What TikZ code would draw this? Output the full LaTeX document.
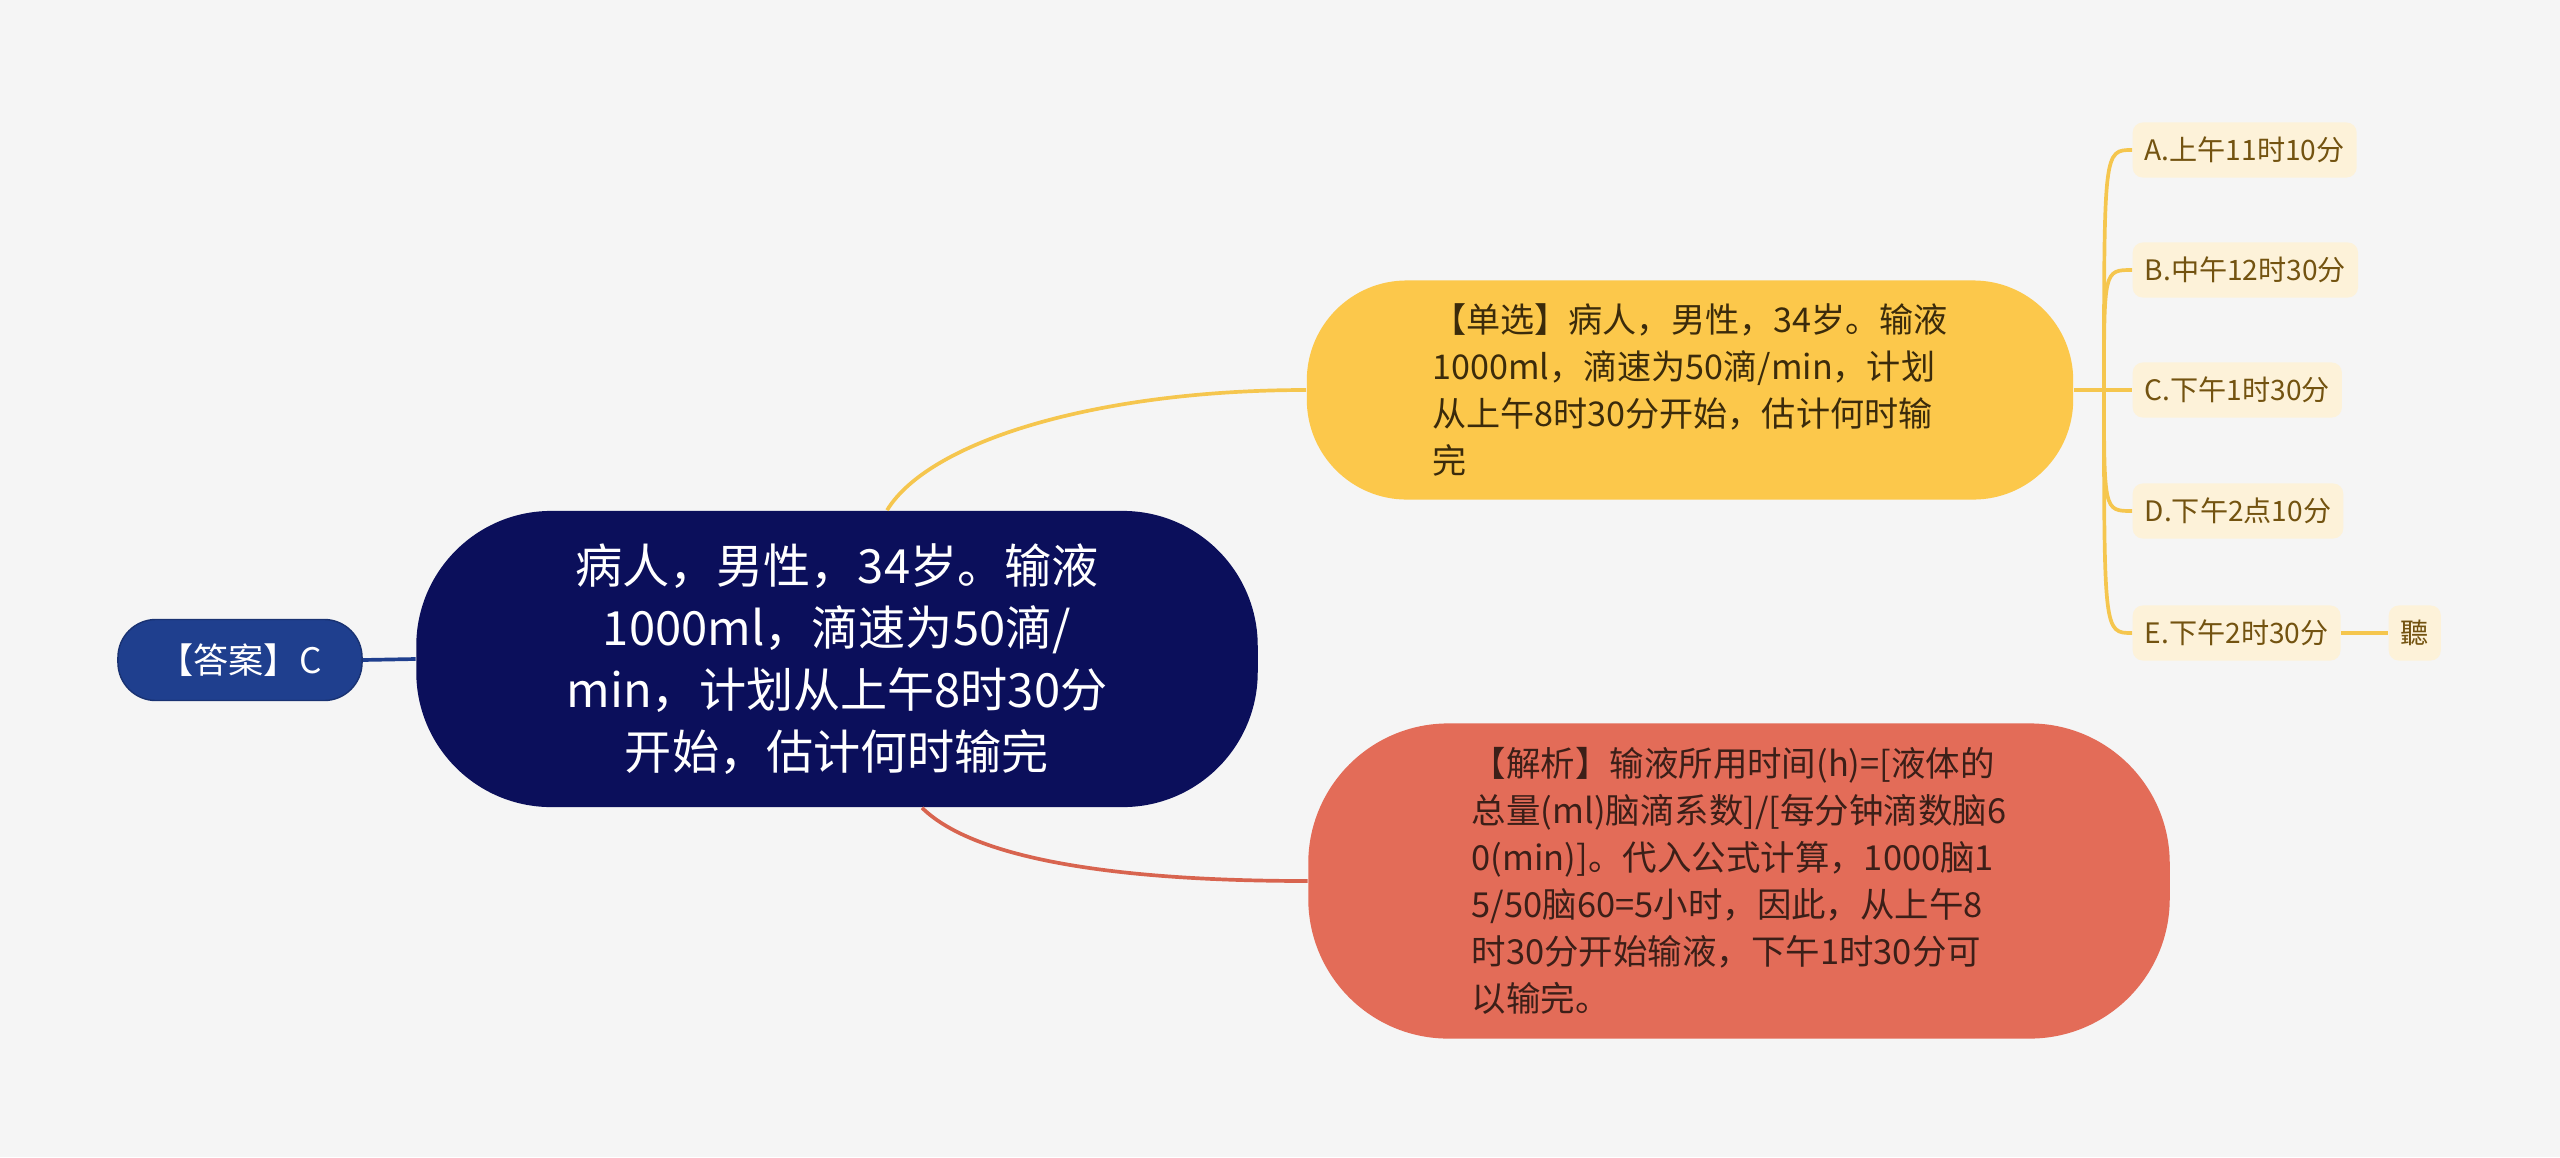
\documentclass[tikz,border=0pt]{standalone}
\usepackage{fontspec}
\setmainfont{Noto Sans CJK SC}
\usetikzlibrary{calc}

\definecolor{bgc}{HTML}{F5F5F5}
\definecolor{navy}{HTML}{0B0F5B}
\definecolor{ansblue}{HTML}{1F3F8E}
\definecolor{gold}{HTML}{FCC84B}
\definecolor{goldline}{HTML}{F5C64E}
\definecolor{goldtext}{HTML}{3B2B0B}
\definecolor{coral}{HTML}{E36C58}
\definecolor{coralline}{HTML}{D8644F}
\definecolor{coraltext}{HTML}{3C1F18}
\definecolor{cream}{HTML}{FDF2D9}
\definecolor{optext}{HTML}{735310}

\tikzset{
  topic/.style={rectangle, fill=navy, text=white, align=center,
    minimum width=8.41cm, minimum height=2.96cm, rounded corners=1.35cm,
    font=\fontsize{13.4}{17.6}\selectfont},
  answer/.style={rectangle, fill=ansblue, draw=ansblue!80!black, text=white,
    minimum width=2.44cm, minimum height=0.81cm, rounded corners=0.38cm,
    font=\fontsize{10}{12}\selectfont},
  qbox/.style={rectangle, fill=gold, text=goldtext, align=left,
    minimum width=7.66cm, minimum height=2.19cm, rounded corners=1.0cm,
    font=\fontsize{9.7}{13.4}\selectfont},
  jbox/.style={rectangle, fill=coral, text=coraltext, align=left,
    minimum width=8.61cm, minimum height=3.15cm, rounded corners=1.4cm,
    font=\fontsize{9.8}{13.4}\selectfont},
  opt/.style={rectangle, fill=cream, text=optext, minimum height=0.55cm,
    inner xsep=0.12cm, rounded corners=0.1cm, font=\fontsize{8}{10}\selectfont},
  ylink/.style={draw=goldline, line width=1.05pt},
  rlink/.style={draw=coralline, line width=1.05pt},
  blink/.style={draw=ansblue, line width=1.05pt}
}

\begin{document}
\begin{tikzpicture}[x=0.01cm,y=-0.01cm]
  \fill[bgc] (0,0) rectangle (2560,1157);
  \useasboundingbox (0,0) rectangle (2560,1157);

  % main topic and answer
  \node[topic] (root) at (837,659) {病人，男性，34岁。输液\\1000ml，滴速为50滴/\\min，计划从上午8时30分\\开始，估计何时输完};
  \node[answer] (ans) at (240,660) {【答案】C};
  \draw[blink] (ans.east) -- (root.west);

  % question and analysis
  \node[qbox] (q) at (1690,390) {【单选】病人，男性，34岁。输液\\1000ml，滴速为50滴/min，计划\\从上午8时30分开始，估计何时输\\完};
  \node[jbox] (jx) at (1739,881) {【解析】输液所用时间(h)=[液体的\\总量(ml)脑滴系数]/[每分钟滴数脑6\\0(min)]。代入公式计算，1000脑1\\5/50脑60=5小时，因此，从上午8\\时30分开始输液，下午1时30分可\\以输完。};

  \draw[ylink] ([xshift=0.5cm]root.north) .. controls (930,440) and (1100,390) .. (q.west);
  \draw[rlink] ([xshift=0.85cm]root.south) .. controls (975,860) and (1120,881) .. (jx.west);

  % options
  \foreach \n/\y/\t in {A/150/A.上午11时10分, B/270/B.中午12时30分, C/390/C.下午1时30分,
      D/511/D.下午2点10分, E/633/E.下午2时30分} {
    \node[opt, anchor=west] (\n) at (2132,\y) {\t};
  }
  \node[opt, anchor=west] (ting) at (2388,633) {聽};

  \coordinate (hub) at (2104,390);
  \draw[ylink] (q.east) -- (hub) -- (C.west);
  \foreach \n in {A,B,D,E} {
    \draw[ylink] (hub) .. controls (hub|-\n.west) .. (\n.west);
  }
  \draw[ylink] (E.east) -- (ting.west);
\end{tikzpicture}
\end{document}
